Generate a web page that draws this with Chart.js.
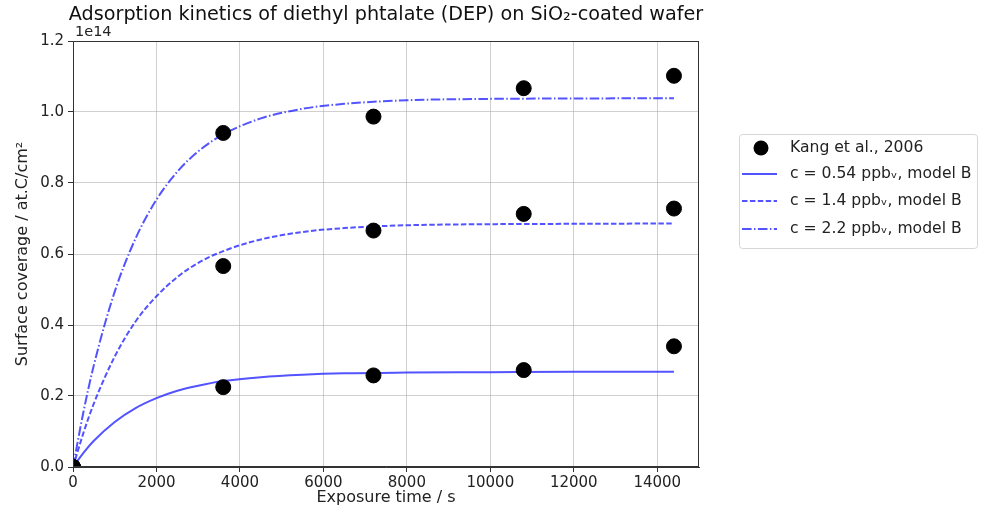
<!DOCTYPE html>
<html lang="en">
<head>
<meta charset="UTF-8">
<title>DEP adsorption kinetics</title>
<style>
  html, body { margin: 0; padding: 0; background: #fff; }
  #wrap { position: relative; width: 982px; height: 512px; }
</style>
</head>
<body>
<div id="wrap"><canvas id="myChart" width="982" height="512"></canvas></div>
<script src="https://cdn.jsdelivr.net/npm/chart.js"></script>
<script>
// Kang et al., 2006 measurements (surface coverage in units of 1e14 at.C/cm2)
var expTime  = [0, 3600, 7200, 10800, 14400];
var kangLow  = [0, 0.225, 0.258, 0.273, 0.340];
var kangMid  = [0, 0.566, 0.666, 0.713, 0.728];
var kangHigh = [0, 0.941, 0.987, 1.067, 1.102];

// model B curves
var modelTime = [0, 250, 500, 1000, 1500, 2000, 2500, 3000, 3600, 4500, 5500, 6500, 8000, 10000, 12000, 14400];
var model054  = [0, 0.040, 0.074, 0.127, 0.166, 0.194, 0.215, 0.229, 0.242, 0.253, 0.260, 0.264, 0.266, 0.267, 0.268, 0.268];
var model14   = [0, 0.096, 0.179, 0.311, 0.410, 0.481, 0.535, 0.575, 0.608, 0.641, 0.662, 0.673, 0.681, 0.684, 0.685, 0.686];
var model22   = [0, 0.155, 0.287, 0.494, 0.644, 0.753, 0.832, 0.889, 0.937, 0.982, 1.009, 1.023, 1.033, 1.037, 1.038, 1.039];

var xTicks = [0, 2000, 4000, 6000, 8000, 10000, 12000, 14000];
var yTicks = [0, 0.2, 0.4, 0.6, 0.8, 1.0, 1.2];

var seriesLabels = ['Kang et al., 2006', 'c = 0.54 ppb\u1D65, model B', 'c = 1.4 ppb\u1D65, model B', 'c = 2.2 ppb\u1D65, model B'];

var lineBlue = 'rgba(40,40,255,0.8)';
var fontFam = '"DejaVu Sans", sans-serif';

function pairs(xs, ys) {
  return xs.map(function (x, i) { return { x: x, y: ys[i] }; });
}

var kangPoints = pairs(expTime, kangLow).concat(pairs(expTime, kangMid), pairs(expTime, kangHigh));

var dataSource = {
  datasets: [
    { type: 'scatter', label: seriesLabels[0], data: kangPoints, backgroundColor: '#000', borderColor: '#000',
      pointRadius: 7.5, pointHoverRadius: 7.5, clip: 0, order: 0 },
    { type: 'line', label: seriesLabels[1], data: pairs(modelTime, model054), borderColor: lineBlue,
      borderWidth: 2, pointRadius: 0, cubicInterpolationMode: 'monotone', borderDash: [], order: 1 },
    { type: 'line', label: seriesLabels[2], data: pairs(modelTime, model14), borderColor: lineBlue,
      borderWidth: 2, pointRadius: 0, cubicInterpolationMode: 'monotone', borderDash: [5.5, 2.4], order: 1 },
    { type: 'line', label: seriesLabels[3], data: pairs(modelTime, model22), borderColor: lineBlue,
      borderWidth: 2, pointRadius: 0, cubicInterpolationMode: 'monotone', borderDash: [9.6, 2.4, 1.5, 2.4], order: 1 }
  ]
};

// title, frame, offset text and the boxed legend
var decorations = {
  id: 'decorations',
  afterDatasetsDraw: function (chart) {
    var ctx = chart.ctx, a = chart.chartArea;
    ctx.save();
    ctx.strokeStyle = '#333';
    ctx.lineWidth = 1;
    ctx.strokeRect(a.left + 0.5, a.top + 0.5, a.right - a.left - 1, a.bottom - a.top - 1);

    ctx.fillStyle = '#111';
    ctx.textBaseline = 'middle';
    ctx.textAlign = 'center';
    ctx.font = '19.2px ' + fontFam;
    ctx.fillText('Adsorption kinetics of diethyl phtalate (DEP) on SiO\u2082-coated wafer', (a.left + a.right) / 2, 15);

    ctx.textAlign = 'left';
    ctx.font = '14.5px ' + fontFam;
    ctx.fillStyle = '#222';
    ctx.fillText('1e14', a.left + 2, 32);

    // legend
    var bx = 739, by = 134, bw = 238, bh = 114;
    ctx.strokeStyle = '#d6d6d6';
    ctx.fillStyle = 'rgba(255,255,255,0.9)';
    ctx.beginPath();
    ctx.roundRect(bx + 0.5, by + 0.5, bw, bh, 3);
    ctx.fill();
    ctx.stroke();

    var rows = [148, 174, 201, 229];
    ctx.font = '15.6px ' + fontFam;
    chart.data.datasets.forEach(function (ds, i) {
      var y = rows[i];
      if (ds.type === 'scatter') {
        ctx.fillStyle = '#000';
        ctx.beginPath();
        ctx.arc(761, y, 7.5, 0, Math.PI * 2);
        ctx.fill();
      } else {
        ctx.strokeStyle = ds.borderColor;
        ctx.lineWidth = 2;
        ctx.setLineDash(ds.borderDash);
        ctx.beginPath();
        ctx.moveTo(742, y);
        ctx.lineTo(777, y);
        ctx.stroke();
        ctx.setLineDash([]);
      }
      ctx.fillStyle = '#222';
      ctx.fillText(ds.label, 790, y);
    });
    ctx.restore();
  }
};

function createChart() {
  var ctx = document.getElementById('myChart').getContext('2d');
  new Chart(ctx, {
    type: 'line',
    data: dataSource,
    plugins: [decorations],
    options: {
      responsive: false,
      animation: false,
      layout: { padding: { left: 0, top: 41, right: 283, bottom: 0 } },
      plugins: { legend: { display: false }, title: { display: false }, tooltip: { enabled: false } },
      scales: {
        x: {
          type: 'linear', min: 0, max: 15000,
          afterBuildTicks: function (s) { s.ticks = xTicks.map(function (v) { return { value: v }; }); },
          afterFit: function (s) { s.height = 45; },
          grid: { color: 'rgba(170,170,170,0.55)', tickColor: '#333', tickLength: 5, lineWidth: 1 },
          border: { color: '#333' },
          ticks: { color: '#222', font: { family: fontFam, size: 15 }, padding: 2, maxRotation: 0,
                   callback: function (v) { return String(v); } },
          title: { display: true, text: 'Exposure time / s', color: '#222', font: { family: fontFam, size: 16 }, padding: { top: 0, bottom: 5 } }
        },
        y: {
          type: 'linear', min: 0, max: 1.2,
          afterBuildTicks: function (s) { s.ticks = yTicks.map(function (v) { return { value: v }; }); },
          afterFit: function (s) { s.width = 73; },
          grid: { color: 'rgba(170,170,170,0.55)', tickColor: '#333', tickLength: 5, lineWidth: 1 },
          border: { color: '#333' },
          ticks: { color: '#222', font: { family: fontFam, size: 15 }, padding: 4,
                   callback: function (v) { return v.toFixed(1); } },
          title: { display: true, text: 'Surface coverage / at.C/cm\u00B2', color: '#222', font: { family: fontFam, size: 16 }, padding: { top: 13, bottom: 0 } }
        }
      }
    }
  });
}

createChart();
</script>
</body>
</html>
